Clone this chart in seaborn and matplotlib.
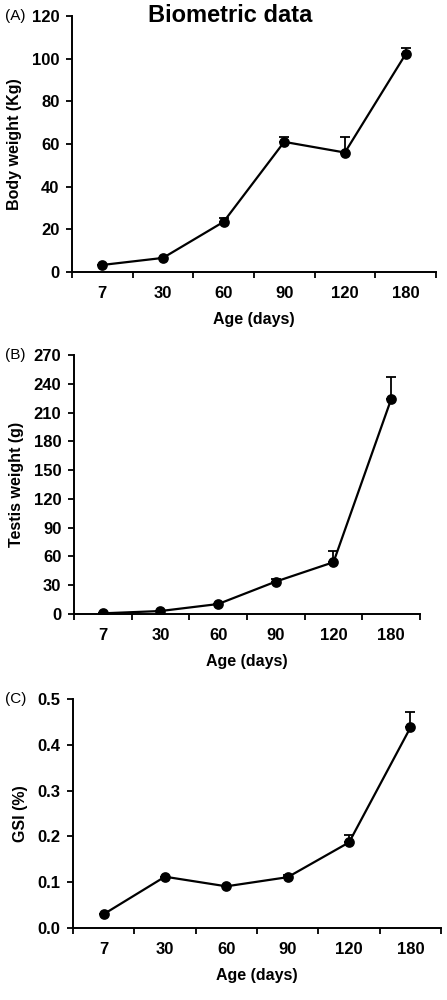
import matplotlib
matplotlib.use("Agg")
import matplotlib.pyplot as plt
import seaborn as sns
import numpy as np
import pandas as pd
from matplotlib.ticker import FixedLocator, FormatStrFormatter

ages = ["7", "30", "60", "90", "120", "180"]
body_weight = [3.3, 6.6, 23.5, 61.0, 56.0, 102.0]
body_err = [0.0, 0.0, 1.7, 2.5, 7.2, 3.2]
testis_weight = [0.7, 3.1, 10.4, 33.8, 54.0, 224.0]
testis_err = [0.0, 0.0, 0.0, 2.7, 11.5, 22.7]
gsi = [0.030, 0.112, 0.091, 0.111, 0.187, 0.438]
gsi_err = [0.0, 0.0, 0.0, 0.004, 0.017, 0.034]

sns.set_theme(style="ticks")
plt.rcParams['font.family'] = ['Liberation Sans', 'DejaVu Sans']

fig = plt.figure(figsize=(4.47, 10), dpi=100)

panels = [
    dict(pos=[0.161, 0.728, 0.814, 0.256], vals=body_weight, err=body_err,
         ylabel="Body weight (Kg)", yticks=[0, 20, 40, 60, 80, 100, 120], ymax=120,
         fmt="%d", tag="(A)"),
    dict(pos=[0.1655, 0.386, 0.7741, 0.259], vals=testis_weight, err=testis_err,
         ylabel="Testis weight (g)", yticks=list(range(0, 271, 30)), ymax=270,
         fmt="%d", tag="(B)"),
    dict(pos=[0.163, 0.072, 0.824, 0.229], vals=gsi, err=gsi_err,
         ylabel="GSI (%)", yticks=[0.0, 0.1, 0.2, 0.3, 0.4, 0.5], ymax=0.5,
         fmt="%.1f", tag="(C)"),
]

for p in panels:
    ax = fig.add_axes(p["pos"])
    df = pd.DataFrame({"Age": ages, "val": p["vals"]})
    x = np.arange(len(ages))
    ax.errorbar(x, p["vals"], yerr=[np.zeros(len(ages)), p["err"]], fmt="none",
                ecolor="black", elinewidth=1.3, capsize=3.5, capthick=1.3, zorder=1)
    sns.pointplot(data=df, x="Age", y="val", color="black", errorbar=None,
                  markers="o", markersize=6.5, linewidth=1.6, ax=ax, zorder=3)
    ax.set_xlim(-0.5, len(ages) - 0.5)
    ax.set_ylim(0, p["ymax"])
    ax.set_yticks(p["yticks"])
    ax.yaxis.set_major_formatter(FormatStrFormatter(p["fmt"]))
    ax.set_xticks(x)
    ax.set_xticklabels(ages)
    ax.xaxis.set_minor_locator(FixedLocator(np.arange(-0.5, len(ages), 1.0)))
    ax.tick_params(axis="x", which="major", length=0, pad=10)
    ax.tick_params(axis="x", which="minor", length=4, width=1.3, direction="out", color="black")
    ax.tick_params(axis="y", which="major", length=4, width=1.3, direction="out", color="black", pad=5)
    for lbl in ax.get_xticklabels() + ax.get_yticklabels():
        lbl.set_fontweight("bold")
        lbl.set_fontsize(12)
        lbl.set_color("black")
    sns.despine(ax=ax)
    for s in ["left", "bottom"]:
        ax.spines[s].set_linewidth(1.4)
        ax.spines[s].set_color("black")
    ax.set_xlabel("Age (days)", fontsize=11.5, fontweight="bold", color="black", labelpad=8)
    ax.set_ylabel(p["ylabel"], fontsize=11.5, fontweight="bold", color="black", labelpad=7)
    l, b, w, h = p["pos"]
    fig.text(0.012, b + h, p["tag"], fontsize=11, ha="left", va="center", color="black")

fig.text(0.515, 0.985, "Biometric data", fontsize=17, fontweight="bold",
         ha="center", va="center", color="black")

fig.savefig("out.png", dpi=100)
